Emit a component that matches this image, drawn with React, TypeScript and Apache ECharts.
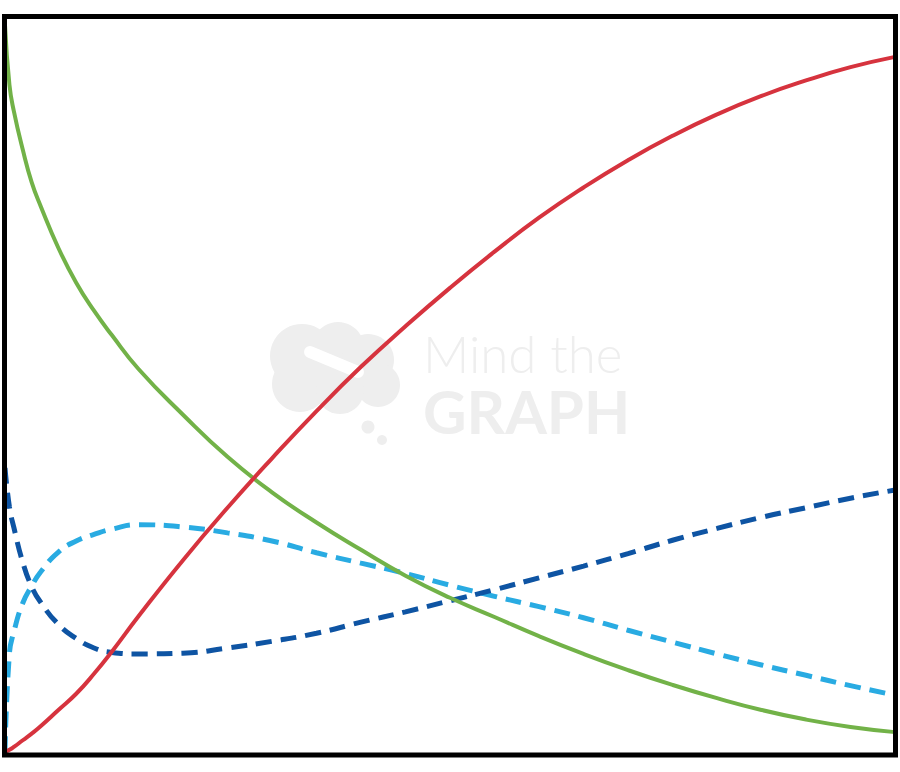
import { useEffect, useRef } from 'react';
import * as echarts from 'echarts';

// shared x positions (0..100 across the frame)
const xValues = [0, 0.5, 1, 2, 3, 4, 6, 8, 10, 12, 15, 20, 25, 30, 35, 40, 45, 50, 55, 60, 65, 70, 75, 80, 85, 90, 95, 100];

const redValues = [0.4, 0.7, 1.1, 2.0, 2.9, 3.9, 6.1, 8.3, 11.0, 14.0, 18.8, 26.4, 33.5, 40.2, 46.6, 52.6, 58.1, 63.3, 68.2, 72.8, 76.9, 80.6, 83.9, 86.8, 89.3, 91.4, 93.2, 94.6];
const greenValues = [98.9, 90.8, 87.2, 82.0, 77.6, 74.4, 68.7, 64.0, 60.2, 56.9, 52.3, 46.1, 40.4, 35.6, 31.5, 27.8, 24.3, 21.3, 18.7, 16.1, 13.7, 11.5, 9.5, 7.7, 6.1, 4.8, 3.8, 3.1];
const lightBlueValues = [0.4, 13.8, 16.7, 20.6, 22.9, 24.8, 27.5, 29.0, 29.9, 30.6, 31.2, 30.9, 30.1, 29.0, 27.4, 26.0, 24.6, 23.0, 21.5, 20.1, 18.6, 16.9, 15.3, 13.7, 12.2, 10.8, 9.4, 8.1];
const darkBlueValues = [38.9, 33.6, 30.8, 26.1, 22.8, 20.7, 17.7, 15.8, 14.5, 13.9, 13.7, 13.8, 14.5, 15.4, 16.5, 18.0, 19.4, 20.9, 22.4, 24.0, 25.6, 27.3, 29.1, 30.7, 32.2, 33.5, 34.8, 35.9];

const watermarkTop = 'Mind the';
const watermarkBottom = 'GRAPH';

const pairs = (ys: number[]) => xValues.map((x, i) => [x, ys[i]]);

export default function App() {
  const chartRef = useRef<HTMLDivElement>(null);

  useEffect(() => {
    if (!chartRef.current) return;
    const chart = echarts.init(chartRef.current, null, { renderer: 'svg' });

    const wm = '#eeeeee';
    chart.setOption({
      animation: false,
      backgroundColor: '#fff',
      grid: { left: 5, right: 5, top: 17, bottom: 17 },
      xAxis: { type: 'value', min: 0, max: 100, show: false },
      yAxis: { type: 'value', min: 0, max: 100, show: false },
      graphic: [
        // watermark logo (rough)
        {
          type: 'group',
          z: 0,
          children: [
            { type: 'circle', shape: { cx: 302, cy: 356, r: 32 }, style: { fill: wm } },
            { type: 'circle', shape: { cx: 338, cy: 348, r: 26 }, style: { fill: wm } },
            { type: 'circle', shape: { cx: 368, cy: 360, r: 26 }, style: { fill: wm } },
            { type: 'circle', shape: { cx: 378, cy: 385, r: 22 }, style: { fill: wm } },
            { type: 'circle', shape: { cx: 300, cy: 384, r: 28 }, style: { fill: wm } },
            { type: 'circle', shape: { cx: 340, cy: 390, r: 24 }, style: { fill: wm } },
            { type: 'line', shape: { x1: 310, y1: 352, x2: 358, y2: 372 }, style: { stroke: '#fff', lineWidth: 12, lineCap: 'round' } },
            { type: 'circle', shape: { cx: 368, cy: 427, r: 6.5 }, style: { fill: wm } },
            { type: 'circle', shape: { cx: 382, cy: 440, r: 5 }, style: { fill: wm } },
            {
              type: 'text', x: 423, y: 324,
              style: {
                text: `{a|${watermarkTop}}\n{b|${watermarkBottom}}`,
                fill: wm,
                verticalAlign: 'top',
                rich: {
                  a: { fill: wm, fontFamily: 'Lato', fontWeight: 300, fontSize: 51, lineHeight: 58 },
                  b: { fill: wm, fontFamily: 'Lato', fontWeight: 'bold', fontSize: 60, lineHeight: 58 },
                },
              },
            },
          ],
        },
        // frame
        {
          type: 'rect',
          z: 100,
          shape: { x: 4.5, y: 16.5, width: 891, height: 738.5 },
          style: { fill: 'transparent', stroke: '#000', lineWidth: 5 },
        },
      ],
      series: [
        {
          type: 'line', data: pairs(lightBlueValues), smooth: 0.5, showSymbol: false,
          lineStyle: { color: '#29abe2', width: 5, type: [16, 9] },
        },
        {
          type: 'line', data: pairs(darkBlueValues), smooth: 0.5, showSymbol: false,
          lineStyle: { color: '#0e54a3', width: 5, type: [16, 9] },
        },
        {
          type: 'line', data: pairs(greenValues), smooth: 0.5, showSymbol: false,
          lineStyle: { color: '#72b248', width: 4 },
        },
        {
          type: 'line', data: pairs(redValues), smooth: 0.5, showSymbol: false,
          lineStyle: { color: '#d6333e', width: 4 },
        },
      ],
    });

    return () => chart.dispose();
  }, []);

  return (
    <div
      ref={chartRef}
      style={{ position: 'fixed', left: 0, top: 0, width: 900, height: 772, background: '#fff' }}
    />
  );
}
